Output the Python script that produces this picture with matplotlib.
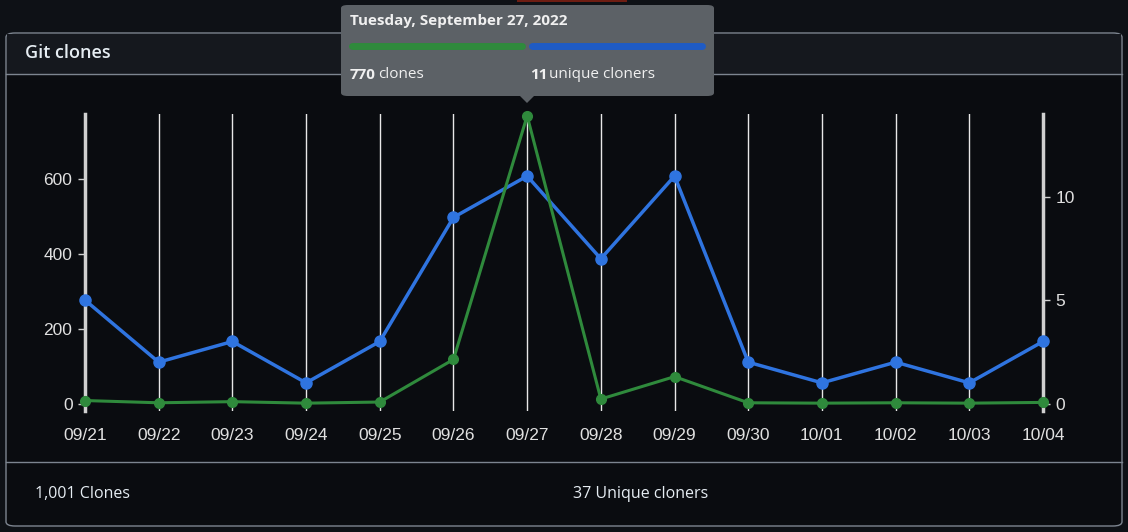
import matplotlib.pyplot as plt
from matplotlib.patches import FancyBboxPatch, Polygon, Rectangle

# data
dates = ["09/21", "09/22", "09/23", "09/24", "09/25", "09/26", "09/27",
         "09/28", "09/29", "09/30", "10/01", "10/02", "10/03", "10/04"]
clones = [8, 2, 5, 1, 4, 118, 770, 12, 72, 2, 1, 2, 1, 3]
unique = [5, 2, 3, 1, 3, 9, 11, 7, 11, 2, 1, 2, 1, 3]
left_ticks = [0, 200, 400, 600]
right_ticks = [0, 5, 10]

bg_out = "#0e1116"
bg_head = "#15181e"
bg_body = "#0a0c10"
border = "#7d8590"
txt = "#e6edf3"
green = "#2f8a3c"
blue = "#2f74e0"

W, H = 1128, 532
fig = plt.figure(figsize=(W / 100, H / 100), dpi=100, facecolor=bg_out)


def fx(px):
    return px / W


def fy(py):
    return 1 - py / H


# card (drawn under the axes)
card = FancyBboxPatch((fx(6), fy(526)), fx(1116), fy(33) - fy(526),
                      boxstyle="round,pad=0,rounding_size=0.008",
                      transform=fig.transFigure, fc=bg_body, ec=border, lw=1, zorder=-2)
fig.patches.append(card)
fig.patches.append(Rectangle((fx(7), fy(74)), fx(1114), fy(34) - fy(74),
                             transform=fig.transFigure, fc=bg_head, ec="none", zorder=-1))
fig.add_artist(plt.Line2D([fx(6), fx(1122)], [fy(74), fy(74)], transform=fig.transFigure,
                          color=border, lw=1))
fig.add_artist(plt.Line2D([fx(6), fx(1122)], [fy(462), fy(462)], transform=fig.transFigure,
                          color=border, lw=1))
fig.text(fx(25), fy(53), "Git clones", color=txt, fontsize=13, fontweight="semibold",
         family="Open Sans", va="center")
fig.text(fx(35), fy(494), "1,001 Clones", color=txt, fontsize=11.5, family="Open Sans", va="center")
fig.text(fx(573), fy(494), "37 Unique cloners", color=txt, fontsize=11.5, family="Open Sans", va="center")

# red strip at the top edge
fig.add_artist(Rectangle((fx(517), fy(2)), fx(110), fy(0) - fy(2), transform=fig.transFigure,
                         fc="#6e1d12", ec="none", zorder=-1))

# chart
ax = fig.add_axes([fx(85), fy(411), fx(1043) - fx(85), fy(114) - fy(411)])
ax.set_facecolor("none")
x = list(range(len(dates)))
ax.set_xlim(0, len(dates) - 1)
ax.set_ylim(-20, 775)
for xi in x[1:-1]:
    ax.axvline(xi, color="#e8e8e8", lw=1, zorder=1)
for s in ["top", "bottom"]:
    ax.spines[s].set_visible(False)
for s in ["left", "right"]:
    ax.spines[s].set_color("#d0d0d0")
    ax.spines[s].set_linewidth(2.5)
ax.set_xticks(x)
ax.set_xticklabels(dates)
ax.set_yticks(left_ticks)
ax.tick_params(axis="x", length=0, pad=12, colors="#e0e0e0", labelsize=12.5)
ax.tick_params(axis="y", length=5, width=1, color="#d0d0d0", colors="#e0e0e0", labelsize=12.5, pad=4)
for lab in ax.get_xticklabels() + ax.get_yticklabels():
    lab.set_family("Liberation Sans")

ax2 = ax.twinx()
ax2.set_ylim(-20 * 14 / 775, 14)
ax2.set_yticks(right_ticks)
for s in ax2.spines.values():
    s.set_visible(False)
ax2.tick_params(axis="y", length=5, width=1, color="#d0d0d0", colors="#e0e0e0", labelsize=12.5, pad=4)
for lab in ax2.get_yticklabels():
    lab.set_family("Liberation Sans")

ax2.plot(x, unique, color=blue, lw=2.5, marker="o", ms=8, zorder=3, clip_on=False)
ax2.plot(x, [c * 14 / 775 for c in clones], color=green, lw=2.2, marker="o", ms=7,
         zorder=4, clip_on=False)

# tooltip
tip = "#5c6166"
fig.patches.append(FancyBboxPatch((fx(341), fy(96)), fx(373), fy(5) - fy(96),
                                  boxstyle="round,pad=0,rounding_size=0.006",
                                  transform=fig.transFigure, fc=tip, ec="none", zorder=10))
fig.patches.append(Polygon([(fx(520), fy(96)), (fx(534), fy(96)), (fx(527), fy(103))],
                           closed=True, transform=fig.transFigure, fc=tip, ec="none", zorder=10))
fig.text(fx(350), fy(21), "Tuesday, September 27, 2022", color="#f0f0f0", fontsize=11,
         fontweight="bold", family="Open Sans", va="center", zorder=11)
fig.add_artist(plt.Line2D([fx(352), fx(522)], [fy(46), fy(46)], transform=fig.transFigure,
                          color=green, lw=5, solid_capstyle="round", zorder=11))
fig.add_artist(plt.Line2D([fx(532), fx(702)], [fy(46), fy(46)], transform=fig.transFigure,
                          color="#1f5bc4", lw=5, solid_capstyle="round", zorder=11))
fig.text(fx(350), fy(75), "770", color="#f0f0f0", fontsize=11, fontweight="bold",
         family="Open Sans", va="center", zorder=11)
fig.text(fx(378), fy(75), "clones", color="#f0f0f0", fontsize=11,
         family="Open Sans", va="center", zorder=11)
fig.text(fx(530), fy(75), "11", color="#f0f0f0", fontsize=11, fontweight="bold",
         family="Open Sans", va="center", zorder=11)
fig.text(fx(549), fy(75), "unique cloners", color="#f0f0f0", fontsize=11,
         family="Open Sans", va="center", zorder=11)

fig.savefig("out.png", dpi=100, facecolor=bg_out)
